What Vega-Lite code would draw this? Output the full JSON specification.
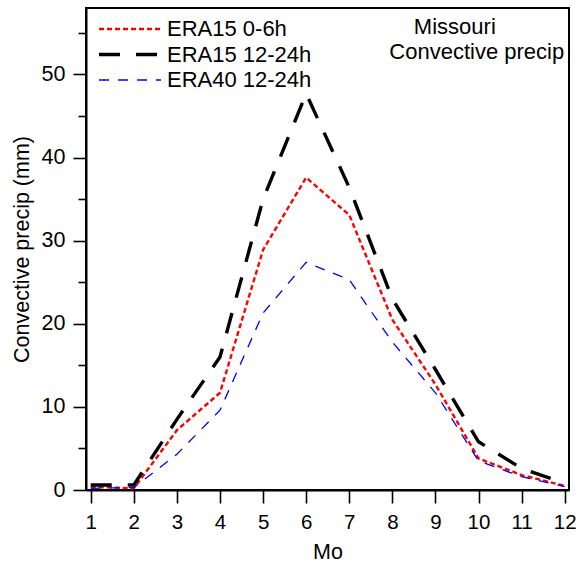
{
  "$schema": "https://vega.github.io/schema/vega-lite/v6.json",
  "width": 483,
  "height": 482,
  "autosize": {"type": "none"},
  "padding": {"left": 86, "top": 8, "right": 14, "bottom": 82},
  "background": "white",
  "config": {
    "font": "Liberation Sans",
    "view": {"stroke": "black", "strokeWidth": 2},
    "axis": {
      "domainColor": "black", "domainWidth": 2, "tickColor": "black", "tickWidth": 1.6,
      "labelColor": "black", "titleColor": "black", "labelFontSize": 21, "titleFontSize": 21.5,
      "titleFontWeight": "normal", "grid": false
    }
  },
  "data": {
    "values": [
      {"series": "ERA15 0-6h", "month": 1, "value": 0.4},
      {"series": "ERA15 0-6h", "month": 2, "value": 0.2},
      {"series": "ERA15 0-6h", "month": 3, "value": 7.2},
      {"series": "ERA15 0-6h", "month": 4, "value": 11.7},
      {"series": "ERA15 0-6h", "month": 5, "value": 28.9},
      {"series": "ERA15 0-6h", "month": 6, "value": 37.6},
      {"series": "ERA15 0-6h", "month": 7, "value": 33.1},
      {"series": "ERA15 0-6h", "month": 8, "value": 20.5},
      {"series": "ERA15 0-6h", "month": 9, "value": 12.7},
      {"series": "ERA15 0-6h", "month": 10, "value": 3.8},
      {"series": "ERA15 0-6h", "month": 11, "value": 1.8},
      {"series": "ERA15 0-6h", "month": 12, "value": 0.5},
      {"series": "ERA15 12-24h", "month": 1, "value": 0.6},
      {"series": "ERA15 12-24h", "month": 2, "value": 0.6},
      {"series": "ERA15 12-24h", "month": 3, "value": 8.5},
      {"series": "ERA15 12-24h", "month": 4, "value": 16.0},
      {"series": "ERA15 12-24h", "month": 5, "value": 35.0},
      {"series": "ERA15 12-24h", "month": 6, "value": 47.7},
      {"series": "ERA15 12-24h", "month": 7, "value": 36.4},
      {"series": "ERA15 12-24h", "month": 8, "value": 23.0},
      {"series": "ERA15 12-24h", "month": 9, "value": 14.5},
      {"series": "ERA15 12-24h", "month": 10, "value": 5.8},
      {"series": "ERA15 12-24h", "month": 11, "value": 2.6},
      {"series": "ERA15 12-24h", "month": 12, "value": 0.8},
      {"series": "ERA40 12-24h", "month": 1, "value": 0.2},
      {"series": "ERA40 12-24h", "month": 2, "value": 0.3},
      {"series": "ERA40 12-24h", "month": 3, "value": 4.3},
      {"series": "ERA40 12-24h", "month": 4, "value": 9.6},
      {"series": "ERA40 12-24h", "month": 5, "value": 21.3},
      {"series": "ERA40 12-24h", "month": 6, "value": 27.4},
      {"series": "ERA40 12-24h", "month": 7, "value": 25.3},
      {"series": "ERA40 12-24h", "month": 8, "value": 17.8},
      {"series": "ERA40 12-24h", "month": 9, "value": 11.7},
      {"series": "ERA40 12-24h", "month": 10, "value": 3.5},
      {"series": "ERA40 12-24h", "month": 11, "value": 1.6},
      {"series": "ERA40 12-24h", "month": 12, "value": 0.4}
    ]
  },
  "layer": [
    {
      "mark": {"type": "line", "clip": true},
      "encoding": {
        "x": {
          "field": "month", "type": "quantitative",
          "scale": {"domain": [0.89, 12.1], "nice": false, "zero": false},
          "axis": {"values": [1,2,3,4,5,6,7,8,9,10,11,12], "format": "d", "tickSize": 13, "labelPadding": 9, "labelFontSize": 20.5, "title": "Mo", "titlePadding": 9, "domain": true}
        },
        "y": {
          "field": "value", "type": "quantitative",
          "scale": {"domain": [0, 58], "nice": false},
          "axis": {
            "values": [0,5,10,15,20,25,30,35,40,45,50,55],
            "labelExpr": "datum.value % 10 === 0 ? datum.label : ''",
            "tickSize": {"condition": {"test": "datum.value % 10 === 0", "value": 13}, "value": 8},
            "labelPadding": 8,
            "labelFontSize": 21.5,
            "title": "Convective precip (mm)",
            "titlePadding": 8
          }
        },
        "color": {
          "field": "series", "type": "nominal",
          "scale": {"domain": ["ERA15 0-6h", "ERA15 12-24h", "ERA40 12-24h"], "range": ["#ff0000", "#000000", "#0000ff"]},
          "legend": {
            "title": null, "orient": "none", "legendX": 11, "legendY": 10,
            "symbolType": "stroke", "symbolSize": 3844, "labelFontSize": 22, "labelColor": "black",
            "labelOffset": 4, "rowPadding": 3.5, "clipHeight": 22
          }
        },
        "strokeDash": {
          "field": "series", "type": "nominal",
          "scale": {"domain": ["ERA15 0-6h", "ERA15 12-24h", "ERA40 12-24h"], "range": [[5, 3], [21, 16], [10, 9]]},
          "legend": {"title": null}
        },
        "strokeWidth": {
          "field": "series", "type": "nominal",
          "scale": {"type": "ordinal", "domain": ["ERA15 0-6h", "ERA15 12-24h", "ERA40 12-24h"], "range": [2.4, 3.4, 1.3]},
          "legend": {"title": null}
        }
      }
    },
    {
      "data": {"values": [{}]},
      "mark": {"type": "text", "fontSize": 22, "align": "center", "baseline": "middle", "color": "black"},
      "encoding": {"x": {"datum": 9.45, "type": "quantitative"}, "y": {"datum": 55.7, "type": "quantitative"}, "text": {"value": "Missouri"}}
    },
    {
      "data": {"values": [{}]},
      "mark": {"type": "text", "fontSize": 22, "align": "center", "baseline": "middle", "color": "black"},
      "encoding": {"x": {"datum": 9.96, "type": "quantitative"}, "y": {"datum": 52.7, "type": "quantitative"}, "text": {"value": "Convective precip"}}
    }
  ]
}
